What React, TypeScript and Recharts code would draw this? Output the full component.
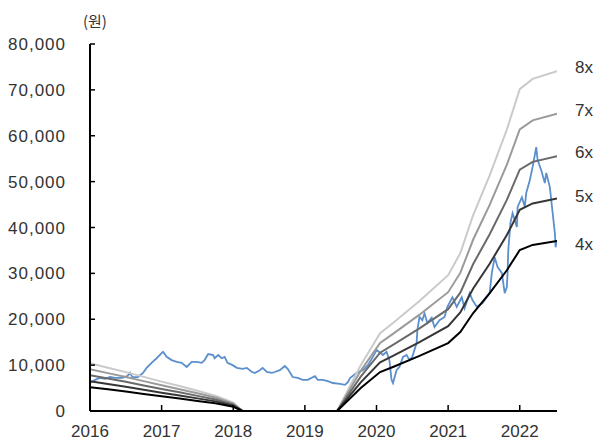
import { LineChart, Line, XAxis, YAxis, LabelList } from 'recharts'

document.body.style.margin = '0'

const yearTicks = [2016, 2017, 2018, 2019, 2020, 2021, 2022]
const valueTicks = [0, 10000, 20000, 30000, 40000, 50000, 60000, 70000, 80000]
const multiples = [8, 7, 6, 5, 4]

// EPS (원); null = negative, not drawn
const epsDates = [
  2016.0, 2016.25, 2016.5, 2016.75, 2017.0, 2017.25, 2017.5, 2017.75, 2018.0, 2018.13,
  2018.8,
  2019.45, 2019.78, 2020.05, 2020.23, 2020.6, 2021.0, 2021.17, 2021.35, 2021.58, 2021.82,
  2022.0, 2022.18, 2022.52,
]
const epsValues = [
  1300, 1180, 1060, 930, 800, 680, 550, 420, 230, 0,
  null,
  0, 1250, 2120, 2400, 3000, 3700, 4300, 5340, 6420, 7670,
  8770, 9050, 9260,
]

const priceDates = [
  2016.0, 2016.07, 2016.14, 2016.21, 2016.28, 2016.35, 2016.45, 2016.52, 2016.56, 2016.59,
  2016.67, 2016.74, 2016.79, 2016.86, 2016.93, 2017.0, 2017.02, 2017.07, 2017.14, 2017.21,
  2017.28, 2017.35, 2017.42, 2017.49, 2017.56, 2017.6, 2017.65, 2017.72, 2017.74, 2017.79,
  2017.84, 2017.88, 2017.92, 2017.99, 2018.05, 2018.13, 2018.19, 2018.26, 2018.3, 2018.37,
  2018.41, 2018.47, 2018.54, 2018.58, 2018.65, 2018.72, 2018.76, 2018.83, 2018.9, 2018.97,
  2019.04, 2019.14, 2019.18, 2019.25, 2019.32, 2019.39, 2019.49, 2019.56, 2019.6, 2019.63,
  2019.72, 2019.81, 2019.88, 2019.95, 2020.0, 2020.09, 2020.14, 2020.18, 2020.21, 2020.23,
  2020.28, 2020.32, 2020.37, 2020.42, 2020.46, 2020.5, 2020.56, 2020.57, 2020.6, 2020.64,
  2020.67, 2020.71, 2020.77, 2020.81, 2020.88, 2020.95, 2020.99, 2021.06, 2021.12, 2021.19,
  2021.23, 2021.3, 2021.34, 2021.4, 2021.48, 2021.58, 2021.61, 2021.65, 2021.69, 2021.75,
  2021.79, 2021.82, 2021.83, 2021.84, 2021.87, 2021.9, 2021.96, 2021.97, 2022.03, 2022.07,
  2022.09, 2022.14, 2022.18, 2022.23, 2022.25, 2022.3, 2022.35, 2022.37, 2022.42, 2022.46,
  2022.49, 2022.5, 2022.52,
]
const priceValues = [
  6100, 6800, 7200, 7000, 7400, 7200, 7200, 7600, 8300, 7400,
  7400, 8300, 9400, 10500, 11500, 12600, 12900, 11800, 11100, 10700,
  10500, 9600, 10700, 10700, 10500, 11100, 12400, 12200, 11500, 12200,
  11500, 11800, 10500, 10000, 9400, 9200, 9400, 8500, 8300, 8900,
  9400, 8500, 8300, 8500, 8900, 9800, 9200, 7400, 7200, 6800,
  6800, 7600, 6800, 6800, 6500, 6100, 5900, 5700, 6300, 7200,
  8300, 8900, 10000, 11800, 13300, 12200, 12900, 11100, 6800, 6100,
  8900, 9600, 11800, 12200, 11100, 11800, 14800, 17600, 20500, 19800,
  21300, 19200, 20300, 18300, 19800, 20500, 22700, 24800, 22700, 24800,
  22400, 25700, 24200, 22700, 23500, 25700, 30100, 33500, 31400, 30100,
  25700, 27000, 30100, 35100, 41000, 43100, 40100, 44500, 46600, 44500,
  47500, 50300, 53200, 57500, 54700, 52500, 49700, 51900, 48800, 43100,
  38800, 35700, 37300,
]

const bandColors: Record<number, string> = {
  8: '#cacaca',
  7: '#9a9a9a',
  6: '#6a6a6a',
  5: '#363636',
  4: '#000000',
}
const labelDy: Record<number, number> = { 8: -4, 7: -3, 6: -4, 5: -2, 4: 3 }

const bandData = epsDates.map((t, i) => {
  const row: Record<string, number | null> = { t }
  for (const m of multiples) {
    const e = epsValues[i]
    row[`x${m}`] = e == null ? null : e * m
  }
  return row
})

const priceData = priceDates.map((t, i) => ({ t, v: priceValues[i] }))

const tickFont = { fontSize: 17, fill: '#333', fontFamily: 'Liberation Sans, Arial, sans-serif' }

export default function App() {
  return (
    <div style={{ position: 'relative', width: 598, height: 441, background: '#fff' }}>
      <div
        style={{
          position: 'absolute', left: 83, top: 13, fontSize: 15, lineHeight: '15px',
          color: '#333', fontFamily: '"Noto Sans CJK KR", sans-serif',
        }}
      >
        (원)
      </div>
      <LineChart width={598} height={441} margin={{ top: 44, right: 41, left: 0, bottom: 0 }}>
        <XAxis
          dataKey="t"
          type="number"
          domain={[2016, 2022.52]}
          allowDataOverflow
          ticks={yearTicks}
          interval={0}
          height={30}
          tickSize={-6}
          tickMargin={20}
          tick={tickFont}
          axisLine={{ stroke: '#000', strokeWidth: 2 }}
          tickLine={{ stroke: '#000', strokeWidth: 1.5 }}
        />
        <YAxis
          type="number"
          domain={[0, 80000]}
          ticks={valueTicks}
          interval={0}
          width={90}
          tickSize={-5}
          tickMargin={29}
          tick={{ ...tickFont, letterSpacing: 1 }}
          tickFormatter={(v: number) => v.toLocaleString('en-US')}
          axisLine={{ stroke: '#000', strokeWidth: 2 }}
          tickLine={{ stroke: '#000', strokeWidth: 1.5 }}
        />
        <Line
          data={priceData}
          dataKey="v"
          stroke="#5b8fcd"
          strokeWidth={1.8}
          dot={false}
          isAnimationActive={false}
        />
        {multiples.map((m) => (
          <Line
            key={m}
            data={bandData}
            dataKey={`x${m}`}
            stroke={bandColors[m]}
            strokeWidth={2}
            dot={false}
            connectNulls={false}
            isAnimationActive={false}
          >
            <LabelList
              dataKey={`x${m}`}
              content={(p: any) =>
                p.index === bandData.length - 1 ? (
                  <text
                    x={Number(p.x) + 18}
                    y={Number(p.y) + labelDy[m]}
                    dominantBaseline="central"
                    {...tickFont}
                  >
                    {m}x
                  </text>
                ) : null
              }
            />
          </Line>
        ))}
      </LineChart>
    </div>
  )
}
